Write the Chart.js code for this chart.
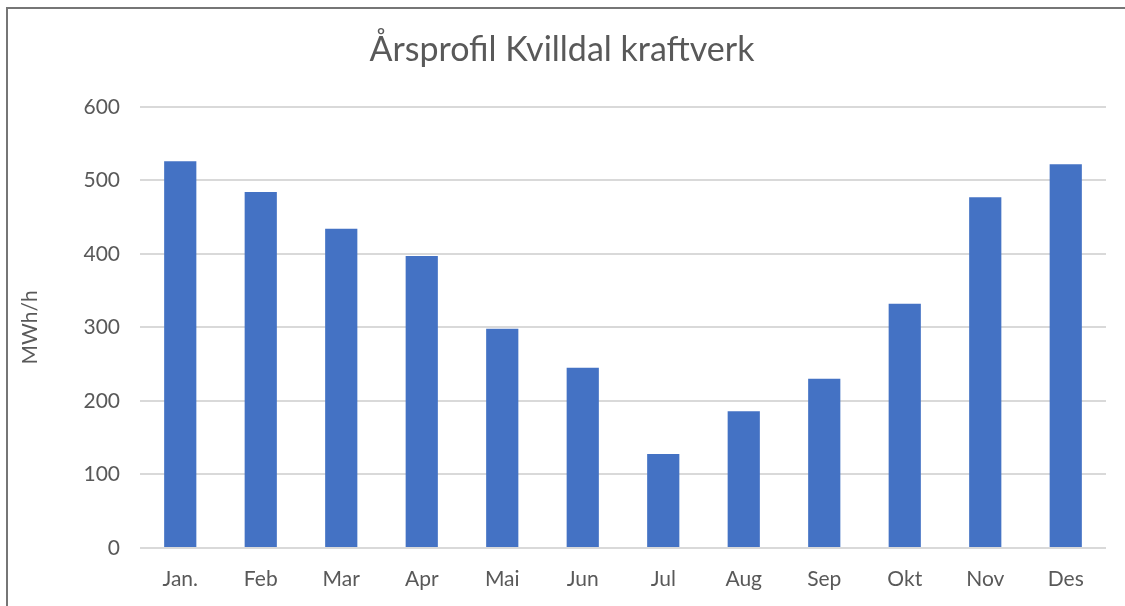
<!DOCTYPE html>
<html>
<head>
<meta charset="utf-8">
<script src="https://cdn.jsdelivr.net/npm/chart.js@4/dist/chart.umd.min.js"></script>
<style>
  body { margin: 0; background: #fff; }
  #wrap {
    position: absolute; left: 0; top: 0; width: 1125px; height: 606px;
  }
  #frame {
    position: absolute; left: 6px; top: 7px; width: 1125px; height: 606px;
    border-left: 2px solid #767676; border-top: 2px solid #767676;
    pointer-events: none;
  }
</style>
</head>
<body>
<div id="wrap"><canvas id="chart" width="1125" height="606"></canvas></div>
<div id="frame"></div>
<script>
const months = ["Jan.", "Feb", "Mar", "Apr", "Mai", "Jun", "Jul", "Aug", "Sep", "Okt", "Nov", "Des"];
const production = [526, 484, 434, 397, 298, 245, 128, 186, 230, 332, 477, 522];
const titleText = "Årsprofil Kvilldal kraftverk";
const yAxisTitle = "MWh/h";

const textColor = "#595959";
const fontFamily = "Lato, 'Open Sans', sans-serif";

new Chart(document.getElementById("chart"), {
  type: "bar",
  data: {
    labels: months,
    datasets: [
      {
        label: yAxisTitle,
        data: production,
        backgroundColor: "#4472C4",
        barPercentage: 0.4,
        categoryPercentage: 1.0,
      },
    ],
  },
  options: {
    responsive: false,
    animation: false,
    layout: { padding: { left: 18, right: 19, top: 0, bottom: 0 } },
    plugins: {
      legend: { display: false },
      tooltip: { enabled: false },
      title: {
        display: true,
        text: titleText,
        color: textColor,
        font: { family: fontFamily, size: 34, weight: "normal" },
        padding: { top: 30, bottom: 36 },
      },
    },
    scales: {
      x: {
        grid: { display: false, drawTicks: false },
        border: { display: false },
        ticks: { color: textColor, font: { family: fontFamily, size: 21 }, padding: 19 },
        afterFit: (scale) => { scale.height = 58; },
      },
      y: {
        min: 0,
        max: 600,
        ticks: { stepSize: 100, color: textColor, font: { family: fontFamily, size: 21 }, padding: 20 },
        grid: { color: "#d9d9d9", lineWidth: 2, drawTicks: false },
        border: { display: false },
        title: {
          display: true,
          text: yAxisTitle,
          color: textColor,
          font: { family: fontFamily, size: 21 },
          padding: { top: 0, bottom: 0 },
        },
        afterFit: (scale) => { scale.width = 122; },
      },
    },
  },
});
</script>
</body>
</html>
